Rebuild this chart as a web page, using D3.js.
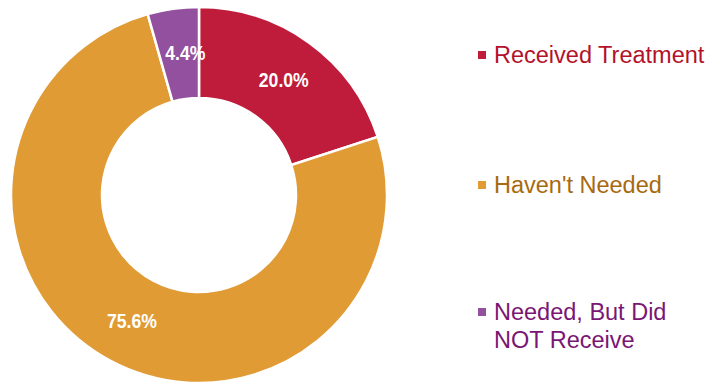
<!DOCTYPE html>
<html><head><meta charset="utf-8">
<script src="https://cdn.jsdelivr.net/npm/d3@7"></script>
<style>body{margin:0;background:#fff;}svg{display:block;}</style>
</head><body>
<svg id="c" width="720" height="386"></svg>
<script>
const categories = ["Received Treatment", "Haven't Needed", "Needed, But Did NOT Receive"];
const values = [20.0, 75.6, 4.4];
const labels = ["20.0%", "75.6%", "4.4%"];
const legendLines = [["Received Treatment"], ["Haven't Needed"], ["Needed, But Did", "NOT Receive"]];
const colors = ["#BE1C3A", "#E09B35", "#93509E"];
const textColors = ["#B3122A", "#A86A10", "#7A1674"];

const svg = d3.select("#c");
const cx = 199, cy = 195, R = 188, r0 = 97;
const pie = d3.pie().sort(null).value(d => d)(values);
const arc = d3.arc().innerRadius(r0).outerRadius(R);
const g = svg.append("g").attr("transform", `translate(${cx},${cy})`);
g.selectAll("path").data(pie).join("path")
  .attr("d", arc).attr("fill", (d,i) => colors[i])
  .attr("stroke", "#fff").attr("stroke-width", 2.5).attr("stroke-linejoin","miter");
const lblOffset = [[1,0],[0,0],[6,-1]];
g.selectAll("text.lbl").data(pie).join("text").attr("class","lbl")
  .attr("transform", (d,i) => {
    const c = arc.centroid(d);
    return `translate(${c[0] + lblOffset[i][0]},${c[1] + lblOffset[i][1]}) scale(0.84,1)`;
  })
  .attr("dy", "0.35em").attr("text-anchor","middle")
  .attr("fill","#fff").attr("font-weight","bold")
  .attr("font-family","'Liberation Sans',Arial,sans-serif")
  .attr("font-size", 21)
  .text((d,i) => labels[i]);

const ly = [55, 185, 312];
const lg = svg.append("g");
categories.forEach((c,i) => {
  lg.append("rect").attr("x", 478).attr("y", ly[i]-4).attr("width", 8).attr("height", 8).attr("fill", colors[i]);
  const t = lg.append("text").attr("x", 494).attr("y", ly[i])
    .attr("fill", textColors[i]).attr("font-family","'Liberation Sans',Arial,sans-serif").attr("font-size", 23.5);
  legendLines[i].forEach((s,j) => t.append("tspan").attr("x",494).attr("dy", j===0 ? "0.35em" : 28).text(s));
});
</script>
</body></html>
